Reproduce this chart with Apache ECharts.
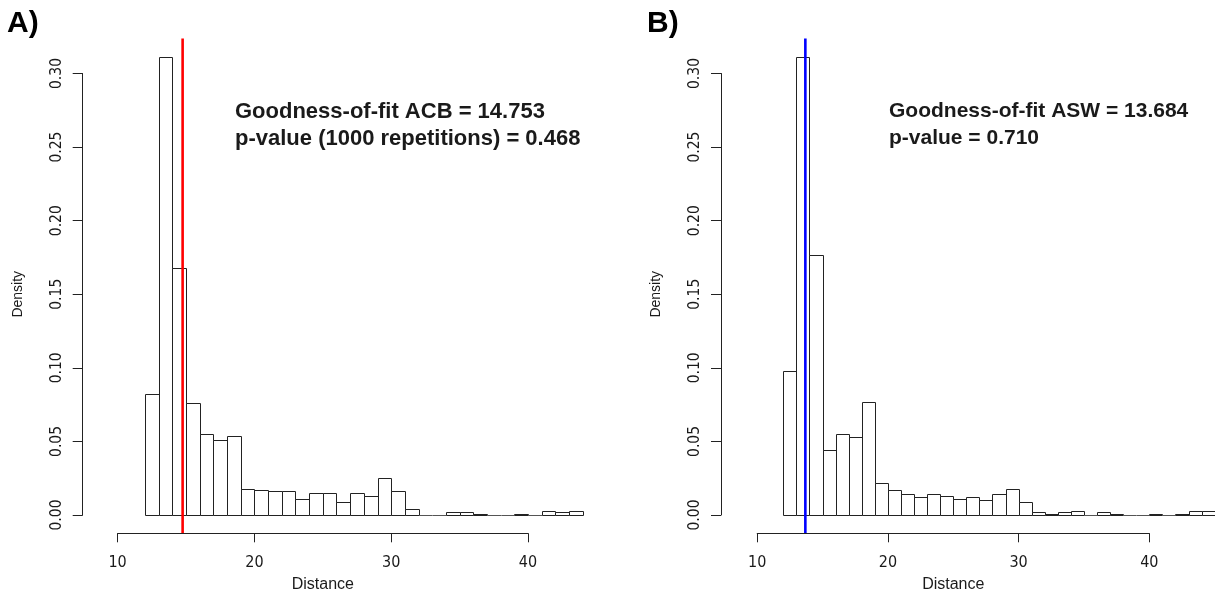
<!DOCTYPE html>
<html>
<head>
<meta charset="utf-8">
<script src="https://cdn.jsdelivr.net/npm/echarts@6/dist/echarts.min.js"></script>
<style>html,body{margin:0;padding:0;background:#fff;}#c{width:1215px;height:590px;}</style>
</head>
<body>
<div id="c"></div>
<script>
// ---- data ----
const binsA = [12,13,14,15,16,17,18,19,20,21,22,23,24,25,26,27,28,29,30,31,32,33,34,35,36,37,38,39,40,41,42,43];
const densA = [0.082,0.311,0.168,0.076,0.055,0.051,0.054,0.018,0.017,0.016,0.016,0.011,0.015,0.015,0.009,0.015,0.013,0.025,0.016,0.004,0,0,0.002,0.002,0.001,0,0,0.001,0,0.003,0.002,0.003];
const binsB = [12,13,14,15,16,17,18,19,20,21,22,23,24,25,26,27,28,29,30,31,32,33,34,35,36,37,38,39,40,41,42,43,44];
const densB = [0.098,0.311,0.177,0.044,0.055,0.053,0.077,0.022,0.017,0.014,0.012,0.014,0.013,0.011,0.012,0.010,0.014,0.018,0.009,0.002,0.001,0.002,0.003,0,0.002,0.001,0,0,0.001,0,0.001,0.003,0.003];
const binWidth = 1;
const fitA = 14.753;
const fitB = 13.684;
const xTicks = [10,20,30,40];
const yTicks = [0,0.05,0.10,0.15,0.20,0.25,0.30];
const textA = ['Goodness-of-fit ACB = 14.753','p-value (1000 repetitions) = 0.468'];
const textB = ['Goodness-of-fit ASW = 13.684','p-value = 0.710'];

const FONT = 'Liberation Sans, Arial, Helvetica, sans-serif';
const NARROW = '"Liberation Sans Narrow", "DejaVu Sans Condensed", "Liberation Sans", sans-serif';
const INK = '#1a1a1a';

function barRender(params, api){
  const x0 = api.value(0), d = api.value(1);
  const p0 = api.coord([x0, 0]);
  const p1 = api.coord([x0 + binWidth, d]);
  const xl = Math.round(p0[0]) + 0.5, xr = Math.round(p1[0]) + 0.5;
  const yb = Math.round(p0[1]) + 0.5, yt = Math.round(p1[1]) + 0.5;
  if (yb - yt < 1) {
    return {type:'line', shape:{x1:xl, y1:yb, x2:xr, y2:yb}, style:{stroke:'#555', lineWidth:1}};
  }
  return {type:'rect', shape:{x:xl, y:yt, width:xr-xl, height:yb-yt},
    style:{fill:'#fff', stroke:'#222', lineWidth:1}};
}
function vlineRender(color){
  return function(params, api){
    const x = api.value(0);
    const a = api.coord([x, 0.3237]);
    const b = api.coord([x, -0.0122]);
    return {type:'line', shape:{x1:a[0], y1:a[1], x2:b[0], y2:b[1]}, style:{stroke:color, lineWidth:2.6}};
  };
}
function xAxisCfg(gi){
  return {gridIndex:gi, type:'value', min:xTicks[0], max:xTicks[xTicks.length-1], interval:10,
    name:'Distance', nameLocation:'middle', nameGap:39,
    nameTextStyle:{fontFamily:FONT, fontSize:16, color:INK},
    offset:18.3,
    axisLine:{show:true, onZero:false, lineStyle:{color:'#222', width:1}},
    axisTick:{show:true, inside:false, length:9, lineStyle:{color:'#222', width:1}},
    axisLabel:{show:true, margin:22, fontFamily:NARROW, fontSize:16, color:INK},
    splitLine:{show:false}};
}
function yAxisCfg(gi, off){
  return {gridIndex:gi, type:'value', min:yTicks[0], max:yTicks[yTicks.length-1], interval:0.05,
    name:'Density', nameLocation:'middle', nameGap:58, nameRotate:90,
    nameTextStyle:{fontFamily:FONT, fontSize:14, color:INK},
    offset:off,
    axisLine:{show:true, onZero:false, lineStyle:{color:'#222', width:1}},
    axisTick:{show:true, inside:false, length:10, lineStyle:{color:'#222', width:1}},
    axisLabel:{show:true, rotate:90, margin:18, fontFamily:NARROW, fontSize:15.5, color:INK,
      formatter: v => v.toFixed(2)},
    splitLine:{show:false}};
}

const chart = echarts.init(document.getElementById('c'), null, {renderer:'canvas'});
chart.setOption({
  animation:false,
  backgroundColor:'#fff',
  grid:[
    {left:117.6, top:73.5, width:410.4, height:441.5, containLabel:false, outerBoundsMode:'none'},
    {left:757.2, top:73.5, width:392.1, height:441.5, containLabel:false, outerBoundsMode:'none'}
  ],
  xAxis:[xAxisCfg(0), xAxisCfg(1)],
  yAxis:[yAxisCfg(0, 34.9), yAxisCfg(1, 36.2)],
  series:[
    {type:'custom', xAxisIndex:0, yAxisIndex:0, clip:false, renderItem:barRender,
      data: binsA.map((b,i)=>[b, densA[i]])},
    {type:'custom', xAxisIndex:1, yAxisIndex:1, clip:false, renderItem:barRender,
      data: binsB.map((b,i)=>[b, densB[i]])},
    {type:'custom', xAxisIndex:0, yAxisIndex:0, clip:false, renderItem:vlineRender('#ff0000'), data:[[fitA]]},
    {type:'custom', xAxisIndex:1, yAxisIndex:1, clip:false, renderItem:vlineRender('#0000ff'), data:[[fitB]]}
  ],
  graphic:[
    {type:'text', left:7, top:9, style:{text:'A)', font:'bold 30px '+FONT, fill:'#000'}},
    {type:'text', left:647, top:9, style:{text:'B)', font:'bold 30px '+FONT, fill:'#000'}},
    {type:'text', x:235, y:98, style:{text:textA.join('\n'), font:'bold 22px '+FONT, fill:INK, lineHeight:27}},
    {type:'text', x:889, y:98, style:{text:textB.join('\n'), font:'bold 21px '+FONT, fill:INK, lineHeight:27}}
  ]
});
</script>
</body>
</html>
